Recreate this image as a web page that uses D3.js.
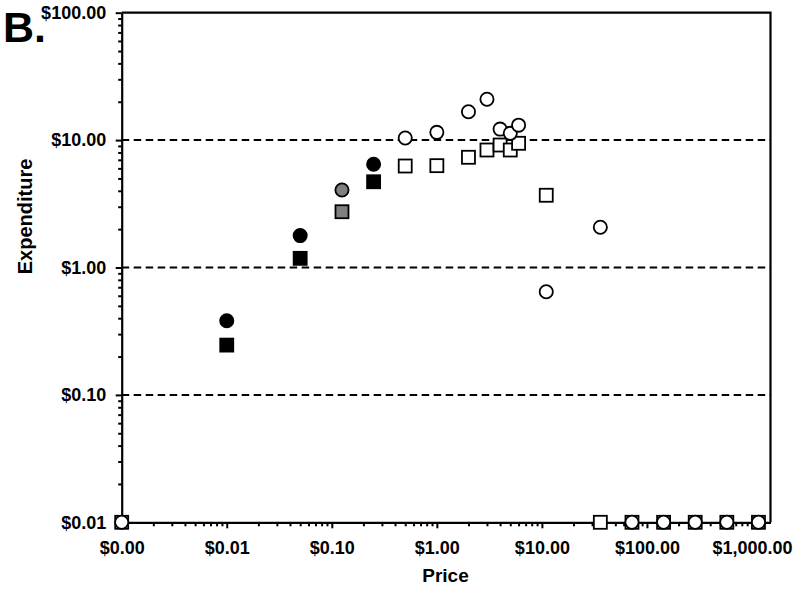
<!DOCTYPE html>
<html>
<head>
<meta charset="utf-8">
<script src="https://cdn.jsdelivr.net/npm/d3@7"></script>
<style>
  html, body { margin: 0; padding: 0; background: #fff; }
  svg { display: block; font-family: "Liberation Sans", Arial, sans-serif; }
</style>
</head>
<body>
<svg id="chart" width="795" height="589"></svg>
<script>
// ---- Data ----
const xTickValues = [0.001, 0.01, 0.1, 1, 10, 100, 1000];
const yTickValues = [0.01, 0.1, 1, 10, 100];
const gridValues = [0.1, 1, 10];

// Filled black circles
const blackCirclePrice = [0.01, 0.05, 0.25];
const blackCircleExp   = [0.382, 1.78, 6.46];
// Grey circle
const greyCirclePrice = [0.125];
const greyCircleExp   = [4.06];
// Open circles
const openCirclePrice = [0.001, 0.5, 1, 2, 3, 4, 5, 6, 11, 36, 72, 144, 288, 576, 1152];
const openCircleExp   = [0.01, 10.4, 11.5, 16.7, 20.9, 12.2, 11.3, 13.1, 0.645, 2.07, 0.01, 0.01, 0.01, 0.01, 0.01];

// Filled black squares
const blackSquarePrice = [0.01, 0.05, 0.25];
const blackSquareExp   = [0.246, 1.18, 4.71];
// Grey square
const greySquarePrice = [0.125];
const greySquareExp   = [2.74];
// Open squares
const openSquarePrice = [0.001, 0.5, 1, 2, 3, 4, 5, 6, 11, 36, 72, 144, 288, 576, 1152];
const openSquareExp   = [0.01, 6.26, 6.3, 7.33, 8.36, 9.15, 8.36, 9.44, 3.69, 0.01, 0.01, 0.01, 0.01, 0.01, 0.01];

// ---- Layout ----
const svg = d3.select("#chart");
const L = 121.7, R = 770.5, T = 12.7, B = 522.3;

const x = d3.scaleLog().domain([0.001, 1500]).range([L, R]);
const y = d3.scaleLog().domain([0.01, 100]).range([B, T]);
const fmt = d3.format("$,.2f");

function minorTicks(lo, hi) {
  const out = [];
  for (let e = Math.round(Math.log10(lo)); e < Math.round(Math.log10(hi)) + 1; e++) {
    for (let m = 2; m <= 9; m++) {
      const v = m * Math.pow(10, e);
      if (v > lo && v < hi) out.push(v);
    }
  }
  return out;
}

// Dashed grid lines
svg.append("g").selectAll("line").data(gridValues).join("line")
  .attr("x1", L).attr("x2", R)
  .attr("y1", d => y(d)).attr("y2", d => y(d))
  .attr("stroke", "#000").attr("stroke-width", 2)
  .attr("stroke-dasharray", "7.5,4.5");

// Minor ticks
const xMinor = minorTicks(0.001, 1500);
svg.append("g").attr("transform", `translate(0,${B})`)
  .call(d3.axisBottom(x).tickValues(xMinor).tickSize(4).tickSizeOuter(0).tickFormat(""))
  .call(g => g.select(".domain").remove())
  .call(g => g.selectAll("line").attr("stroke-width", 2));

const yMinor = minorTicks(0.01, 100);
svg.append("g").attr("transform", `translate(${L},0)`)
  .call(d3.axisLeft(y).tickValues(yMinor).tickSize(3.5).tickSizeOuter(0).tickFormat(""))
  .call(g => g.select(".domain").remove())
  .call(g => g.selectAll("line").attr("stroke-width", 2));

// Major axes
const xAxis = svg.append("g").attr("transform", `translate(0,${B})`)
  .call(d3.axisBottom(x).tickValues(xTickValues).tickSize(6).tickSizeOuter(0).tickPadding(13).tickFormat(fmt));
xAxis.select(".domain").attr("stroke-width", 2.2);
xAxis.selectAll("line").attr("stroke-width", 2);
xAxis.selectAll("text").attr("font-size", 18).attr("font-weight", "bold").attr("fill", "#000");

const yAxis = svg.append("g").attr("transform", `translate(${L},0)`)
  .call(d3.axisLeft(y).tickValues(yTickValues).tickSize(6).tickSizeOuter(0).tickPadding(9.5).tickFormat(fmt));
yAxis.select(".domain").attr("stroke-width", 2.2);
yAxis.selectAll("line").attr("stroke-width", 2);
yAxis.selectAll("text").attr("font-size", 18).attr("font-weight", "bold").attr("fill", "#000");

// Top and right border
svg.append("path")
  .attr("d", `M${L},${T}H${R}V${B}`)
  .attr("fill", "none").attr("stroke", "#000").attr("stroke-width", 2.2);

// ---- Markers ----
const S = 13;
function squares(px, py, fill) {
  svg.append("g").selectAll("rect").data(px.map((p, i) => [p, py[i]])).join("rect")
    .attr("x", d => x(d[0]) - S / 2).attr("y", d => y(d[1]) - S / 2)
    .attr("width", S).attr("height", S)
    .attr("fill", fill).attr("stroke", "#000").attr("stroke-width", 1.8);
}
function circles(px, py, fill) {
  svg.append("g").selectAll("circle").data(px.map((p, i) => [p, py[i]])).join("circle")
    .attr("cx", d => x(d[0])).attr("cy", d => y(d[1])).attr("r", 6.6)
    .attr("fill", fill).attr("stroke", "#000").attr("stroke-width", 1.8);
}
squares(openSquarePrice, openSquareExp, "#fff");
squares(greySquarePrice, greySquareExp, "#808080");
squares(blackSquarePrice, blackSquareExp, "#000");
circles(openCirclePrice, openCircleExp, "#fff");
circles(greyCirclePrice, greyCircleExp, "#808080");
circles(blackCirclePrice, blackCircleExp, "#000");

// ---- Titles ----
svg.append("text").attr("x", 445.5).attr("y", 582)
  .attr("text-anchor", "middle").attr("font-size", 19).attr("font-weight", "bold")
  .text("Price");

svg.append("text").attr("transform", "translate(32,216.5) rotate(-90)")
  .attr("text-anchor", "middle").attr("font-size", 20).attr("font-weight", "bold")
  .text("Expenditure");

svg.append("text").attr("x", 3).attr("y", 41.7)
  .attr("font-size", 43).attr("font-weight", "bold")
  .text("B.");
</script>
</body>
</html>
